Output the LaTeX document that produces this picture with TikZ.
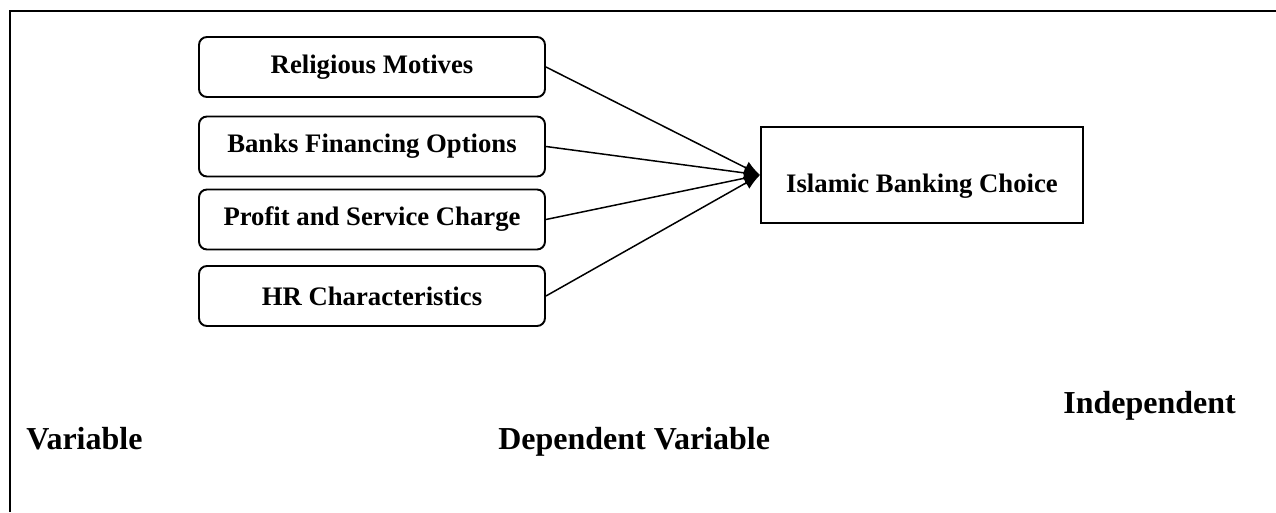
\documentclass[tikz,border=0pt]{standalone}
\usepackage{fontspec}
\setmainfont{Liberation Serif}
\usetikzlibrary{arrows.meta}
\begin{document}
\begin{tikzpicture}[
   factor/.style = {draw, line width=1.1pt, rounded corners=0.16cm, minimum width=6.92cm,
                    minimum height=1.2cm, font=\fontsize{15.2}{18}\selectfont\bfseries},
   result/.style = {draw, line width=1.1pt, minimum width=6.44cm, minimum height=1.92cm,
                    text height=0.82cm, font=\fontsize{15.2}{18}\selectfont\bfseries},
   label/.style  = {anchor=base west, inner sep=0pt, font=\fontsize{18.2}{22}\selectfont\bfseries},
   link/.style   = {line width=0.85pt, -{Latex[length=0.32cm, width=0.27cm]}}]
   \useasboundingbox (0,0) rectangle (25.52,10.24);
   \draw[line width=1.7pt] (0.2,0) |- (25.52,10.02);

   \node[factor] (religion) at (7.44,8.9)  {Religious Motives};
   \node[factor] (finance)  at (7.44,7.31) {Banks Financing Options};
   \node[factor] (profit)   at (7.44,5.85) {Profit and Service Charge};
   \node[factor] (hr)       at (7.44,4.32) {HR Characteristics};

   \node[result] (choice) at (18.44,6.74) {Islamic Banking Choice};

   \draw[link] (religion.east) -- (choice.west);
   \draw[link] (finance.east)  -- (choice.west);
   \draw[link] (profit.east)   -- (choice.west);
   \draw[link] (hr.east)       -- (choice.west);

   \node[label] (indep) at (21.26,1.98) {Independent};
   \node[label] (var)   at (0.52,1.26)  {Variable};
   \node[label] (dep)   at (9.96,1.26)  {Dependent Variable};
\end{tikzpicture}
\end{document}
